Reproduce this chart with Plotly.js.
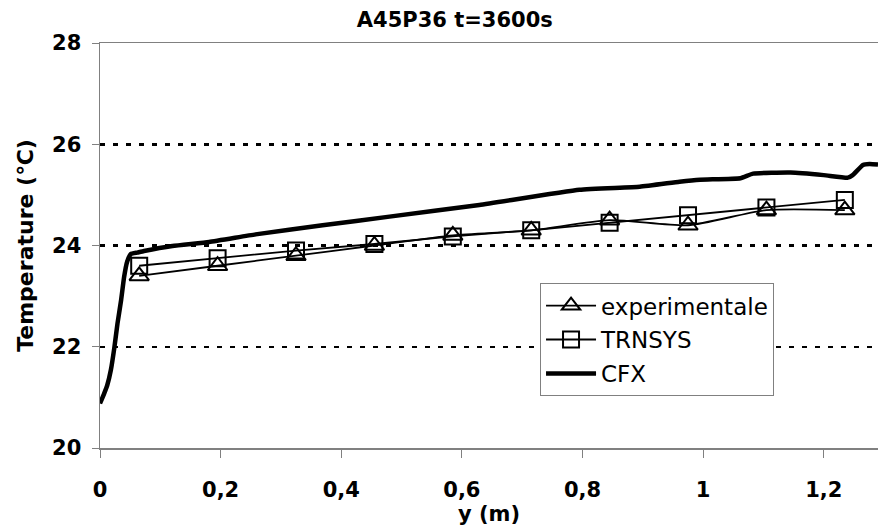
<!DOCTYPE html>
<html>
<head>
<meta charset="utf-8">
<script src="https://cdn.plot.ly/plotly-3.0.1.min.js"></script>
<style>html,body{margin:0;padding:0;background:#fff;}#chart{width:878px;height:529px;}</style>
</head>
<body>
<div id="chart"></div>
<script>
// Measurement positions (m)
const yPos = [0.065, 0.195, 0.325, 0.455, 0.585, 0.715, 0.845, 0.975, 1.105, 1.235];
const expTemp = [23.4, 23.6, 23.8, 24.0, 24.2, 24.3, 24.5, 24.4, 24.7, 24.7];
const trnsysTemp = [23.6, 23.75, 23.9, 24.03, 24.18, 24.3, 24.45, 24.6, 24.75, 24.9];
// CFX profile
const cfxY = [0, 0.007, 0.012, 0.018, 0.024, 0.029, 0.035, 0.040, 0.045, 0.051, 0.062, 0.073, 0.12, 0.181, 0.258, 0.369, 0.48, 0.629, 0.795, 0.895, 0.961, 0.995, 1.062, 1.083, 1.145, 1.2, 1.24, 1.248, 1.265, 1.276, 1.29];
const cfxTemp = [20.88, 21.08, 21.24, 21.54, 22.0, 22.46, 22.92, 23.38, 23.68, 23.83, 23.86, 23.89, 23.99, 24.07, 24.22, 24.4, 24.57, 24.8, 25.1, 25.16, 25.26, 25.3, 25.33, 25.42, 25.44, 25.39, 25.34, 25.39, 25.59, 25.61, 25.6];
const xTickVals = [0, 0.2, 0.4, 0.6, 0.8, 1, 1.2];
const xTickText = ['0', '0,2', '0,4', '0,6', '0,8', '1', '1,2'];
const yTickVals = [20, 22, 24, 26, 28];

const FONT = 'DejaVu Sans, Liberation Sans, Arial, sans-serif';

const traces = [
  {
    x: yPos, y: expTemp, name: 'experimentale', mode: 'lines+markers', legendgroup: 'a',
    line: {color: '#000', width: 1.8, shape: 'spline', smoothing: 0.6},
    marker: {symbol: 'triangle-up-open', size: 17, color: '#000', line: {width: 2, color: '#000'}}
  },
  {
    x: yPos, y: trnsysTemp, name: 'TRNSYS', mode: 'lines+markers', legendgroup: 'b',
    line: {color: '#000', width: 1.8},
    marker: {symbol: 'square-open', size: 16, color: '#000', line: {width: 2, color: '#000'}}
  },
  {
    x: cfxY, y: cfxTemp, name: 'CFX', mode: 'lines', legendgroup: 'c',
    line: {color: '#000', width: 4.5, shape: 'spline', smoothing: 0.4}
  }
];

const layout = {
  width: 878, height: 529,
  margin: {l: 100, r: 0, t: 43, b: 81},
  paper_bgcolor: '#fff', plot_bgcolor: '#fff',
  font: {family: FONT, color: '#000'},
  title: {text: '<b>A45P36 t=3600s</b>', font: {size: 21, family: FONT, color: '#000'}, x: 0.518, xanchor: 'center', y: 0.962, yanchor: 'middle'},
  showlegend: true,
  legend: {
    x: 0.5656, y: 0.407, xanchor: 'left', yanchor: 'top',
    bgcolor: '#fff', bordercolor: '#808080', borderwidth: 1,
    font: {size: 23, family: FONT, color: '#000'},
    tracegroupgap: 1, itemwidth: 50
  },
  xaxis: {
    range: [0, 1.29], tickvals: xTickVals, ticktext: xTickText,
    showgrid: false, zeroline: false,
    showline: true, linecolor: '#808080', linewidth: 1.5, mirror: true,
    ticks: 'outside', ticklen: 8, tickcolor: '#808080', tickwidth: 1,
    ticklabelstandoff: 14,
    tickfont: {size: 21, family: FONT, color: '#000', weight: 'bold'},
    title: {text: '<b>y (m)</b>', font: {size: 21, family: FONT, color: '#000'}, standoff: 0}
  },
  yaxis: {
    range: [20, 28], tickvals: yTickVals,
    showgrid: true, gridcolor: '#000', gridwidth: 2.5, griddash: '5px,8px',
    zeroline: false,
    showline: true, linecolor: '#808080', linewidth: 1.5,
    ticks: 'outside', ticklen: 7, tickcolor: '#808080', tickwidth: 1,
    ticklabelstandoff: 6,
    tickfont: {size: 21, family: FONT, color: '#000', weight: 'bold'},
    title: {text: '<b>Temperature (℃)</b>', font: {size: 22, family: FONT, color: '#000'}, standoff: 12}
  }
};

Plotly.newPlot('chart', traces, layout, {displayModeBar: false, staticPlot: true});
</script>
</body>
</html>
